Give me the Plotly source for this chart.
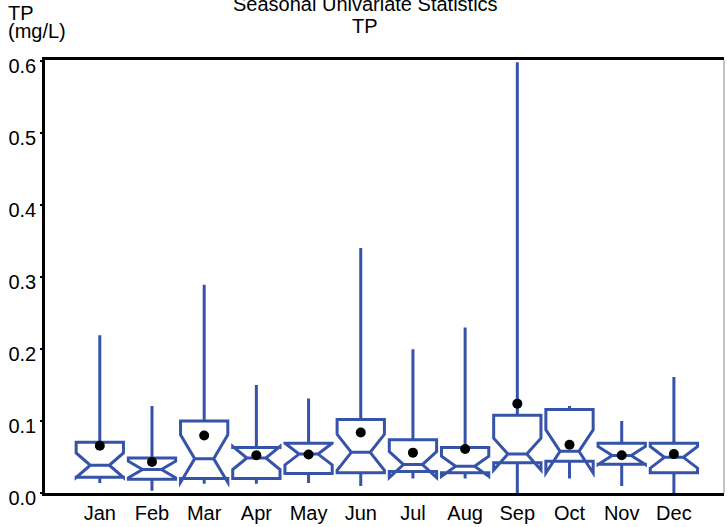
import plotly.graph_objects as go

months = ["Jan", "Feb", "Mar", "Apr", "May", "Jun", "Jul", "Aug", "Sep", "Oct", "Nov", "Dec"]
q1 = [0.022, 0.019, 0.020, 0.020, 0.027, 0.028, 0.030, 0.028, 0.042, 0.044, 0.040, 0.028]
median = [0.0385, 0.0326, 0.0477, 0.0486, 0.054, 0.0564, 0.0394, 0.037, 0.054, 0.0578, 0.052, 0.0495]
q3 = [0.0706, 0.0486, 0.100, 0.0633, 0.0692, 0.102, 0.0738, 0.0633, 0.108, 0.116, 0.069, 0.069]
lower_fence = [0.014, 0.003, 0.0128, 0.0128, 0.0138, 0.0096, 0.020, 0.020, 0.0, 0.020, 0.0096, 0.0]
upper_fence = [0.219, 0.1206, 0.289, 0.150, 0.131, 0.340, 0.1995, 0.2297, 0.598, 0.1206, 0.100, 0.161]
mean = [0.0656, 0.043, 0.0798, 0.0525, 0.0535, 0.0839, 0.056, 0.061, 0.124, 0.067, 0.0523, 0.054]
notch_span = [0.017, 0.0115, 0.033, 0.016, 0.015, 0.025, 0.018, 0.014, 0.022, 0.030, 0.0125, 0.015]
y_ticks = [0.0, 0.1, 0.2, 0.3, 0.4, 0.5, 0.6]

BLUE = "#3553a8"
FONT = "Liberation Sans, Arial, sans-serif"
FS = 20

fig = go.Figure()
fig.add_trace(go.Box(
    x=months, q1=q1, median=median, q3=q3,
    lowerfence=lower_fence, upperfence=upper_fence,
    notched=True, notchspan=notch_span, notchwidth=0.3,
    width=0.906, whiskerwidth=0,
    line=dict(color=BLUE, width=3),
    fillcolor="rgba(0,0,0,0)",
    boxpoints=False, showlegend=False, hoverinfo="skip",
))
fig.add_trace(go.Scatter(
    x=months, y=mean, mode="markers",
    marker=dict(color="black", size=10),
    showlegend=False, hoverinfo="skip",
))

fig.update_layout(
    width=727, height=527,
    margin=dict(l=45, r=3, t=60, b=30),
    paper_bgcolor="white", plot_bgcolor="white",
    font=dict(family=FONT, size=FS, color="black"),
    xaxis=dict(
        type="category", range=[-1.05, 11.96],
        showline=True, linecolor="black", linewidth=2.5, mirror=True,
        showgrid=False, zeroline=False, ticks="",
        tickfont=dict(size=FS),
    ),
    yaxis=dict(
        range=[0, 0.601], tickvals=y_ticks, tickformat=".1f",
        showline=True, linecolor="black", linewidth=2.5,
        showgrid=False, zeroline=False,
        ticks="outside", ticklen=2, tickwidth=1.5, tickcolor="black",
        ticklabelshift=5, ticklabelstandoff=0,
        tickfont=dict(size=FS),
    ),
    shapes=[dict(type="line", xref="paper", yref="paper", x0=1, x1=1, y0=0, y1=1,
                 line=dict(color="#888888", width=1))],
    annotations=[
        dict(text="Seasonal Univariate Statistics", xref="paper", yref="paper",
             x=0.4713, y=1.1293, xanchor="center", yanchor="middle", showarrow=False,
             font=dict(size=FS)),
        dict(text="TP", xref="paper", yref="paper",
             x=0.4713, y=1.0778, xanchor="center", yanchor="middle", showarrow=False,
             font=dict(size=FS)),
        dict(text="TP", xref="paper", yref="paper",
             x=-0.0574, y=1.1076, xanchor="left", yanchor="middle", showarrow=False,
             font=dict(size=FS)),
        dict(text="(mg/L)", xref="paper", yref="paper",
             x=-0.0574, y=1.0664, xanchor="left", yanchor="middle", showarrow=False,
             font=dict(size=FS)),
    ],
)

fig.write_html("out.html", config={"displayModeBar": False},
               post_script="document.body.style.margin='0px';")
